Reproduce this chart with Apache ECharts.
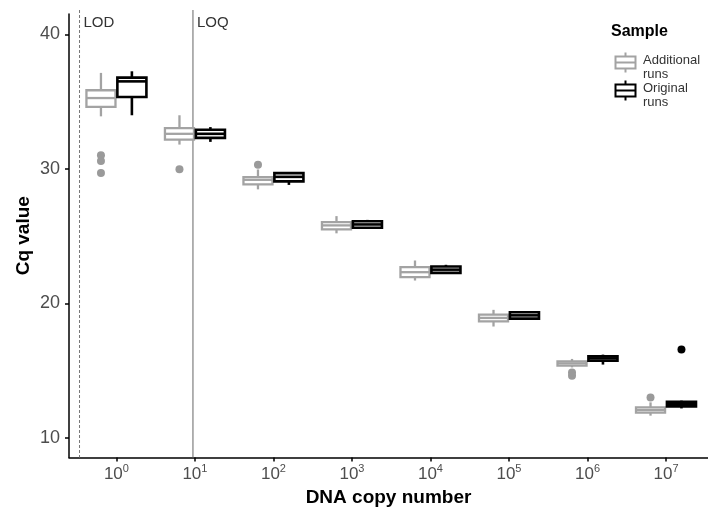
<!DOCTYPE html>
<html><head><meta charset="utf-8">
<script src="https://cdn.jsdelivr.net/npm/echarts@6/dist/echarts.min.js"></script>
<style>html,body{margin:0;padding:0;background:#fff}#c{width:708px;height:514px}</style>
</head><body><div id="c"></div>
<script>
// log10 of DNA copy number
const exponents = [0, 1, 2, 3, 4, 5, 6, 7];
const tickExponents = [0, 1, 2, 3, 4, 5, 6, 7];
const yTicks = [10, 20, 30, 40];
// [min whisker, Q1, median, Q3, max whisker]
const additionalStats = [
  [33.90, 34.60, 35.26, 35.84, 37.13],
  [31.80, 32.17, 32.60, 33.03, 33.98],
  [28.47, 28.84, 29.18, 29.38, 29.95],
  [25.20, 25.49, 25.79, 26.03, 26.48],
  [21.69, 21.94, 22.31, 22.68, 23.18],
  [18.27, 18.66, 18.91, 19.16, 19.51],
  [15.23, 15.36, 15.53, 15.68, 15.86],
  [11.64, 11.86, 12.06, 12.26, 12.63]
];
const originalStats = [
  [33.98, 35.34, 36.50, 36.78, 37.25],
  [32.00, 32.30, 32.60, 32.90, 33.10],
  [28.80, 29.06, 29.40, 29.68, 29.72],
  [25.55, 25.62, 25.86, 26.10, 26.20],
  [22.19, 22.26, 22.50, 22.73, 22.86],
  [18.84, 18.86, 19.10, 19.33, 19.35],
  [15.44, 15.73, 15.90, 16.05, 16.18],
  [12.18, 12.33, 12.50, 12.68, 12.76]
];
// [group index, Cq]
const additionalOutliers = [[0, 31.0], [0, 30.57], [0, 29.68], [1, 29.96], [2, 30.3], [6, 14.86], [6, 14.6], [7, 13.0]];
const originalOutliers = [[7, 16.57]];
// reference lines: [label, log10 copy number, line type]
const refLines = [['LOD', -0.47, 'dashed'], ['LOQ', 0.975, 'solid']];

const X_MIN = -0.604, X_MAX = 7.535, Y_MIN = 8.53, Y_MAX = 41.51;
const BOX_W = 0.37, DODGE = 0.197;
const GRAY = '#a3a3a3', BLACK = '#000000';

function boxRender(color, offset, lw) {
  return function (params, api) {
    const x = api.value(0) + offset;
    const half = api.size([BOX_W, 0])[0] / 2;
    const pLo = api.coord([x, api.value(1)]);
    const pQ1 = api.coord([x, api.value(2)]);
    const pMed = api.coord([x, api.value(3)]);
    const pQ3 = api.coord([x, api.value(4)]);
    const pHi = api.coord([x, api.value(5)]);
    const st = { stroke: color, lineWidth: lw, fill: null };
    return {
      type: 'group', children: [
        { type: 'line', shape: { x1: pQ3[0], y1: pQ3[1], x2: pHi[0], y2: pHi[1] }, style: st },
        { type: 'line', shape: { x1: pQ1[0], y1: pQ1[1], x2: pLo[0], y2: pLo[1] }, style: st },
        { type: 'rect', shape: { x: pQ3[0] - half, y: pQ3[1], width: 2 * half, height: pQ1[1] - pQ3[1] }, style: { stroke: color, lineWidth: lw, fill: '#fff' } },
        { type: 'line', shape: { x1: pMed[0] - half, y1: pMed[1], x2: pMed[0] + half, y2: pMed[1] }, style: st }
      ]
    };
  };
}

function refRender(params, api) {
  const x = api.value(0);
  const top = api.coord([x, Y_MAX]);
  const bot = api.coord([x, Y_MIN]);
  const r = refLines[params.dataIndex];
  return {
    type: 'group', children: [
      { type: 'line', shape: { x1: top[0], y1: top[1] - 4, x2: bot[0], y2: bot[1] },
        style: { stroke: r[2] === 'dashed' ? '#777' : '#666', lineWidth: 1, lineDash: r[2] === 'dashed' ? [3, 2] : null } },
      { type: 'text', x: top[0] + 4, y: top[1] + 9,
        style: { text: r[0], fill: '#333', font: '15px "Liberation Sans", Arial, sans-serif', verticalAlign: 'middle' } }
    ]
  };
}

const chart = echarts.init(document.getElementById('c'), null, { renderer: 'canvas' });
const FONT = '"Liberation Sans", Arial, sans-serif';

function legendIcon(x, y, color) {
  return [
    { type: 'line', shape: { x1: x + 10, y1: y, x2: x + 10, y2: y + 20 }, style: { stroke: color, lineWidth: 2 } },
    { type: 'rect', shape: { x: x, y: y + 4, width: 20, height: 12 }, style: { stroke: color, lineWidth: 2, fill: '#fff' } },
    { type: 'line', shape: { x1: x, y1: y + 10, x2: x + 20, y2: y + 10 }, style: { stroke: color, lineWidth: 2 } }
  ];
}

chart.setOption({
  animation: false,
  backgroundColor: '#fff',
  grid: { left: 69, right: 0, top: 14, bottom: 56.5, containLabel: false },
  xAxis: {
    type: 'value', min: X_MIN, max: X_MAX,
    name: 'DNA copy number', nameLocation: 'middle', nameGap: 31, nameMoveOverlap: false,
    nameTextStyle: { fontFamily: FONT, fontSize: 19, fontWeight: 'bold', color: '#000' },
    axisLine: { show: true, onZero: false, lineStyle: { color: '#000', width: 1.5 } },
    axisTick: { show: true, length: 4, lineStyle: { color: '#000', width: 1.5 }, customValues: tickExponents },
    splitLine: { show: false },
    axisLabel: {
      customValues: tickExponents, margin: 6,
      formatter: v => '{b|10}{s|' + v + '}',
      rich: {
        b: { fontFamily: FONT, fontSize: 17, color: '#4d4d4d' },
        s: { fontFamily: FONT, fontSize: 11, color: '#4d4d4d', padding: [0, 0, 10, 0] }
      }
    }
  },
  yAxis: {
    type: 'value', min: Y_MIN, max: Y_MAX,
    name: 'Cq value', nameLocation: 'middle', nameGap: 36, nameMoveOverlap: false,
    nameTextStyle: { fontFamily: FONT, fontSize: 19, fontWeight: 'bold', color: '#000' },
    axisLine: { show: true, onZero: false, lineStyle: { color: '#000', width: 1.5 } },
    axisTick: { show: true, length: 4, lineStyle: { color: '#000', width: 1.5 }, customValues: yTicks },
    splitLine: { show: false },
    axisLabel: { customValues: yTicks, margin: 9, fontFamily: FONT, fontSize: 18, color: '#4d4d4d' }
  },
  series: [
    { type: 'custom', name: 'ref', renderItem: refRender, data: refLines.map(r => [r[1]]), encode: { x: 0 }, z: 1, silent: true },
    { type: 'custom', name: 'Additional runs', renderItem: boxRender(GRAY, -DODGE, 2.3),
      data: additionalStats.map((s, i) => [exponents[i]].concat(s)), encode: { x: 0, y: [1, 2, 3, 4, 5] }, z: 2 },
    { type: 'custom', name: 'Original runs', renderItem: boxRender(BLACK, DODGE, 2.6),
      data: originalStats.map((s, i) => [exponents[i]].concat(s)), encode: { x: 0, y: [1, 2, 3, 4, 5] }, z: 2 },
    { type: 'scatter', name: 'Additional outliers', symbolSize: 8, itemStyle: { color: '#9a9a9a', opacity: 1 },
      data: additionalOutliers.map(o => [exponents[o[0]] - DODGE, o[1]]), z: 3 },
    { type: 'scatter', name: 'Original outliers', symbolSize: 8, itemStyle: { color: '#000', opacity: 1 },
      data: originalOutliers.map(o => [exponents[o[0]] + DODGE, o[1]]), z: 3 }
  ],
  graphic: [
    { type: 'text', left: 611, top: 24, style: { text: 'Sample', font: 'bold 16px ' + FONT, fill: '#000' } },
    { type: 'group', left: 613, top: 50, children: legendIcon(0, 0, GRAY) },
    { type: 'group', left: 613, top: 78, children: legendIcon(0, 0, BLACK) },
    { type: 'text', left: 643, top: 53, style: { text: 'Additional\nruns', font: '13px ' + FONT, fill: '#333', lineHeight: 14 } },
    { type: 'text', left: 643, top: 81, style: { text: 'Original\nruns', font: '13px ' + FONT, fill: '#333', lineHeight: 14 } }
  ]
});
</script>
</body></html>
